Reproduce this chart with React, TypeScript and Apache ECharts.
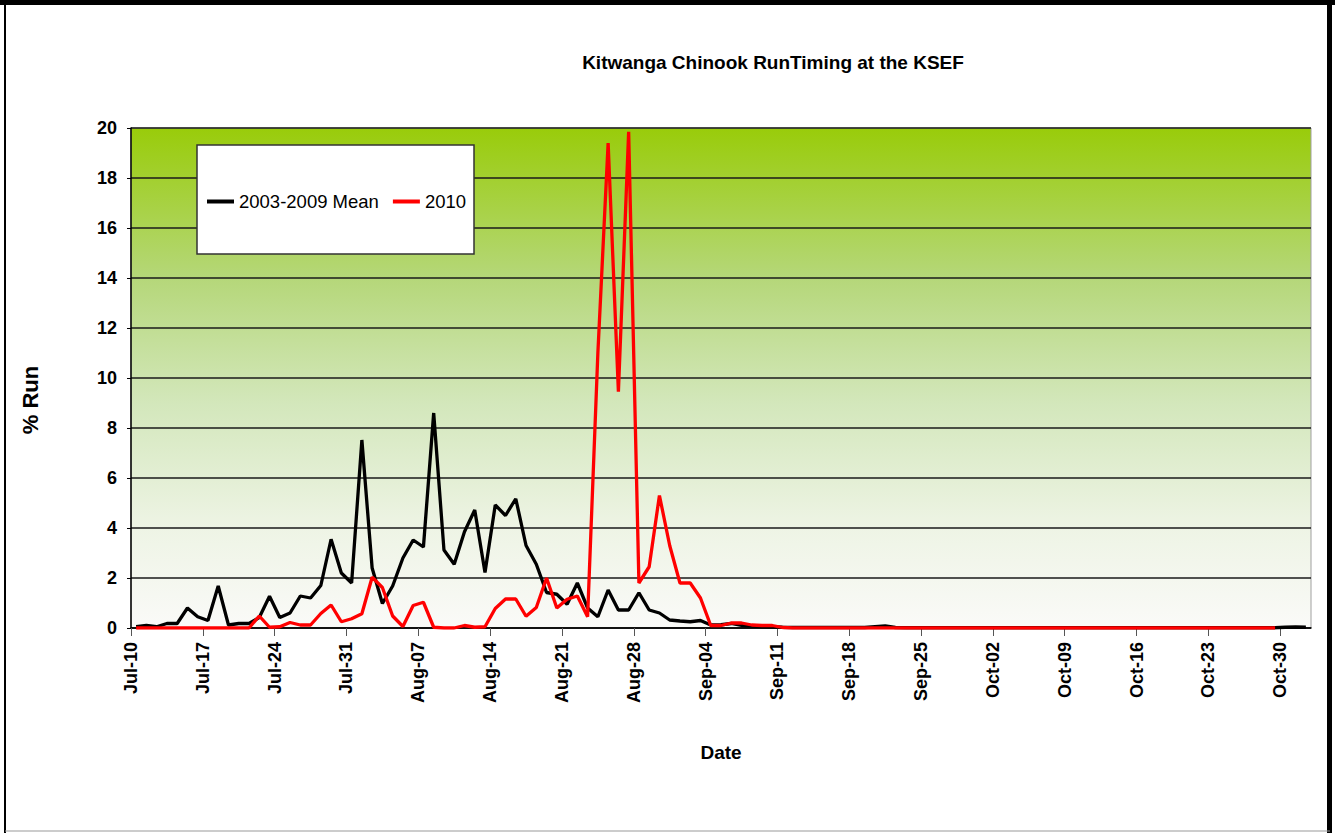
import React, { useEffect, useRef } from "react";
import * as echarts from "echarts";

const titleText = "Kitwanga Chinook RunTiming at the KSEF";
const seriesNames = ["2003-2009 Mean", "2010"];
const tickLabels = [
  "Jul-10", "Jul-17", "Jul-24", "Jul-31", "Aug-07", "Aug-14", "Aug-21", "Aug-28",
  "Sep-04", "Sep-11", "Sep-18", "Sep-25", "Oct-02", "Oct-09", "Oct-16", "Oct-23", "Oct-30",
];
const dayCount = 115; // Jul-10 .. Nov-01, one value per day

const mean2003to2009 = [
  0.05, 0.1, 0.05, 0.18, 0.18, 0.8, 0.45, 0.3, 1.68, 0.12,
  0.18, 0.18, 0.42, 1.27, 0.42, 0.6, 1.28, 1.2, 1.7, 3.55,
  2.2, 1.8, 7.52, 2.4, 0.98, 1.68, 2.8, 3.52, 3.24, 8.6,
  3.12, 2.55, 3.85, 4.72, 2.22, 4.92, 4.5, 5.17, 3.3, 2.55,
  1.42, 1.35, 0.95, 1.8, 0.8, 0.45, 1.52, 0.72, 0.72, 1.41,
  0.72, 0.6, 0.32, 0.28, 0.25, 0.3, 0.12, 0.13, 0.18, 0.1,
  0.08, 0.06, 0.05, 0.03, 0.02, 0.02, 0.02, 0.02, 0.02, 0.02,
  0.02, 0.02, 0.05, 0.08, 0.02, 0.01, 0.01, 0.01, 0.01, 0.01,
  0.01, 0.01, 0.01, 0.01, 0.01, 0.01, 0.01, 0.01, 0.01, 0.01,
  0.01, 0.01, 0.01, 0.01, 0.01, 0.01, 0.01, 0.01, 0.01, 0.01,
  0.01, 0.01, 0.01, 0.01, 0.01, 0.01, 0.01, 0.01, 0.01, 0.01,
  0.01, 0.01, 0.03, 0.04, 0.03,
];

const run2010 = [
  0, 0, 0, 0, 0, 0, 0, 0, 0, 0,
  0, 0, 0.48, 0.03, 0.05, 0.22, 0.12, 0.12, 0.58, 0.92,
  0.25, 0.37, 0.57, 2.03, 1.62, 0.48, 0.06, 0.9, 1.03, 0.03,
  0, 0, 0.1, 0.03, 0.05, 0.78, 1.16, 1.16, 0.47, 0.82,
  2.0, 0.8, 1.15, 1.28, 0.45, 11, 19.4, 9.45, 19.85, 1.8,
  2.45, 5.3, 3.3, 1.8, 1.8, 1.2, 0.1, 0.1, 0.2, 0.2,
  0.12, 0.1, 0.1, 0.02, 0, 0, 0, 0, 0, 0,
  0, 0, 0, 0, 0, 0, 0, 0, 0, 0,
  0, 0, 0, 0, 0, 0, 0, 0, 0, 0,
  0, 0, 0, 0, 0, 0, 0, 0, 0, 0,
  0, 0, 0, 0, 0, 0, 0, 0, 0, 0,
  0, 0, null, null, null,
];

const FONT = "'Liberation Sans', Arial, sans-serif";

export default function App() {
  const ref = useRef<HTMLDivElement>(null);

  useEffect(() => {
    document.body.style.margin = "0";
    if (!ref.current) return;
    const chart = echarts.init(ref.current, null, { renderer: "svg" });

    const toPairs = (arr: (number | null)[]) =>
      arr.map((v, i) => [i + 0.5, v === null ? null : v]);

    chart.setOption({
      animation: false,
      backgroundColor: "#ffffff",
      title: {
        text: titleText,
        left: 768,
        top: 48,
        textAlign: "center",
        textStyle: { fontFamily: FONT, fontWeight: "bold", fontSize: 19, color: "#000" },
      },
      legend: {
        data: seriesNames,
        left: 207,
        top: 192,
        padding: 0,
        z: 20,
        itemWidth: 27,
        itemHeight: 4,
        itemGap: 14,
        icon: "rect",
        textStyle: { fontFamily: FONT, fontSize: 18.5, color: "#000" },
      },
      grid: {
        left: 131,
        top: 128,
        width: 1180,
        height: 500,
        show: true,
        borderColor: "#a0a0a0",
        borderWidth: 1,
        backgroundColor: new echarts.graphic.LinearGradient(0, 0, 0, 1, [
          { offset: 0, color: "#99cc0a" },
          { offset: 0.3, color: "#b5d779" },
          { offset: 0.55, color: "#d3e7bb" },
          { offset: 0.8, color: "#eef4e5" },
          { offset: 1, color: "#fafaf8" },
        ]),
      },
      xAxis: {
        type: "value",
        min: 0,
        max: dayCount,
        interval: 7,
        axisLine: { show: true, lineStyle: { color: "#000", width: 1.5 } },
        axisTick: { show: true, length: 8, lineStyle: { color: "#555", width: 1 } },
        splitLine: { show: false },
        axisLabel: {
          rotate: 90,
          margin: 14,
          showMaxLabel: false,
          fontFamily: FONT,
          fontWeight: "bold",
          fontSize: 18,
          color: "#000",
          formatter: (v: number) => {
            const k = Math.round(v / 7);
            return Math.abs(v - k * 7) < 1e-6 && k < tickLabels.length ? tickLabels[k] : "";
          },
        },
        name: "Date",
        nameLocation: "middle",
        nameGap: 115,
        nameTextStyle: { fontFamily: FONT, fontWeight: "bold", fontSize: 19, color: "#000" },
      },
      yAxis: {
        type: "value",
        min: 0,
        max: 20,
        interval: 2,
        axisLine: { show: true, lineStyle: { color: "#000", width: 1.5 } },
        axisTick: { show: true, length: 4, lineStyle: { color: "#000" } },
        splitLine: { show: true, lineStyle: { color: "#1a1a1a", width: 1.5 } },
        axisLabel: {
          margin: 14,
          fontFamily: FONT,
          fontWeight: "bold",
          fontSize: 18,
          color: "#000",
        },
      },
      graphic: [
        {
          type: "rect",
          z: 10,
          shape: { x: 197, y: 145, width: 277, height: 109 },
          style: { fill: "#ffffff", stroke: "#333", lineWidth: 1.5 },
        },
        {
          type: "text",
          x: 30,
          y: 400,
          rotation: Math.PI / 2,
          style: {
            text: "% Run",
            fontFamily: FONT,
            fontWeight: "bold",
            fontSize: 22,
            fill: "#000",
            align: "center",
            verticalAlign: "middle",
          },
        },
        { type: "line", shape: { x1: 0, y1: 2.5, x2: 1335, y2: 2.5 }, style: { stroke: "#000", lineWidth: 5 } },
        { type: "line", shape: { x1: 5, y1: 0, x2: 5, y2: 833 }, style: { stroke: "#000", lineWidth: 2 } },
        { type: "line", shape: { x1: 1329.5, y1: 0, x2: 1329.5, y2: 833 }, style: { stroke: "#000", lineWidth: 5 } },
        { type: "line", shape: { x1: 5, y1: 831, x2: 1330, y2: 831 }, style: { stroke: "#999", lineWidth: 1 } },
      ],
      series: [
        {
          name: seriesNames[0],
          type: "line",
          data: toPairs(mean2003to2009),
          showSymbol: false,
          symbol: "none",
          lineStyle: { color: "#000000", width: 3.3 },
          itemStyle: { color: "#000000" },
          z: 3,
        },
        {
          name: seriesNames[1],
          type: "line",
          data: toPairs(run2010),
          showSymbol: false,
          symbol: "none",
          connectNulls: false,
          lineStyle: { color: "#ff0000", width: 3.3 },
          itemStyle: { color: "#ff0000" },
          z: 4,
        },
      ],
    });

    return () => chart.dispose();
  }, []);

  return <div ref={ref} style={{ width: 1335, height: 833 }} />;
}
